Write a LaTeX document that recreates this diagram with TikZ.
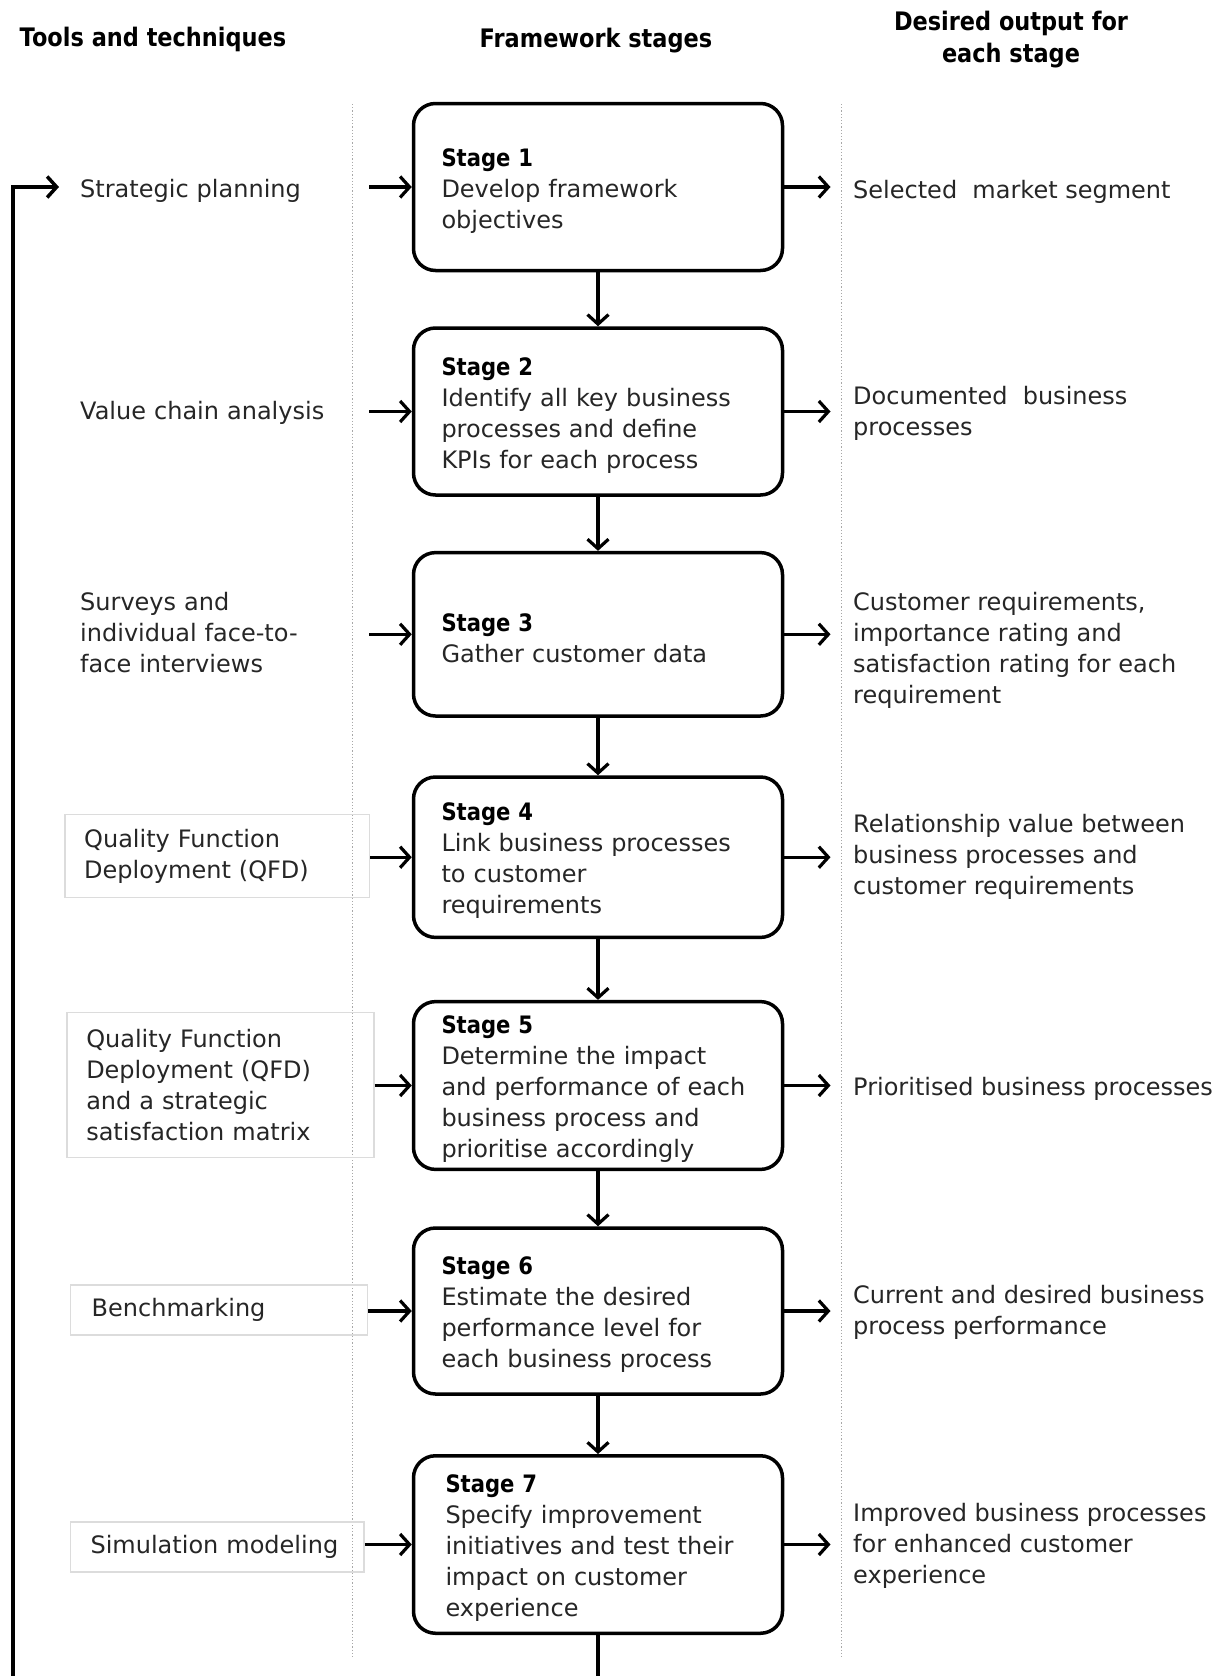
\documentclass[tikz,border=0pt]{standalone}
\usepackage{fontspec}
\setmainfont{DejaVu Sans}
\newfontfamily\condbf{DejaVu Sans}[FakeStretch=0.88]
\usetikzlibrary{arrows.meta}
\definecolor{ink}{HTML}{262626}
\definecolor{framegray}{HTML}{DCDCDC}
\definecolor{dotgray}{HTML}{A8A8A8}
% bold heading line of a stage box, with a strut that sets the top spacing
\newcommand\stagelbl[1]{\rule{0pt}{25pt}{\condbf\bfseries\color{black}Stage #1}}

\begin{document}
\begin{tikzpicture}[x=1pt,y=-1pt,
  every node/.style={font=\fontsize{24}{31}\selectfont, text=ink},
  head/.style={font=\fontsize{25.5}{32}\selectfont\condbf\bfseries, align=center, text=black},
  stagebox/.style={draw=black, line width=3.5pt, rounded corners=22pt,
    text width=313pt, inner xsep=28pt, inner ysep=0pt, align=left},
  toolplain/.style={align=left, anchor=west, inner xsep=21pt, text width=268pt},
  toolbox/.style={draw=framegray, line width=1.5pt, align=left, anchor=west, inner ysep=0pt},
  outtext/.style={align=left, anchor=west, inner xsep=22.5pt},
  flow/.style={draw=black, line width=3.2pt, -{Straight Barb[length=9.5pt,width=21pt]}},
  colsep/.style={draw=dotgray, line width=1.2pt, dotted}
]
\useasboundingbox (0,0) rectangle (1225,1676);
\clip (0,0) rectangle (1225,1676);
\fill[white] (0,0) rectangle (1225,1676);

% column headings
\node[head] (h1) at (153,39.6) {Tools and techniques};
\node[head] (h2) at (596,40.7) {Framework stages};
\node[head] (h3) at (1011,39.6) {Desired output for\\each stage};

% column separators
\draw[colsep] (352.7,104) -- (352.7,1657);
\draw[colsep] (841.2,104) -- (841.2,1657);

% framework stages
\node[stagebox, minimum height=167pt] (s1) at (598,187)
  {\stagelbl{1}\\Develop framework\\objectives};
\node[stagebox, minimum height=167pt] (s2) at (598,411.5)
  {\stagelbl{2}\\Identify all key business\\processes and define\\KPIs for each process};
\node[stagebox, minimum height=163.4pt] (s3) at (598,634.3)
  {\stagelbl{3}\\Gather customer data};
\node[stagebox, minimum height=160.4pt] (s4) at (598,857.2)
  {\stagelbl{4}\\Link business processes\\to customer\\requirements};
\node[stagebox, minimum height=167.8pt] (s5) at (598,1085.5)
  {\stagelbl{5}\\Determine the impact\\and performance of each\\business process and\\prioritise accordingly};
\node[stagebox, minimum height=166pt] (s6) at (598,1311)
  {\stagelbl{6}\\Estimate the desired\\performance level for\\each business process};
\node[stagebox, minimum height=177.5pt, inner xsep=32pt, text width=305pt] (s7) at (598,1544.5)
  {\stagelbl{7}\\Specify improvement\\initiatives and test their\\impact on customer\\experience};

% tools and techniques
\node[toolplain] (t1) at (59,191.3) {Strategic planning};
\node[toolplain] (t2) at (59,412.8) {Value chain analysis};
\node[toolplain] (t3) at (59,633) {Surveys and\\individual face-to-\\face interviews};
\node[toolbox, inner xsep=19.3pt, text width=266pt, minimum height=83pt] (t4) at (64.1,856)
  {Quality Function\\Deployment (QFD)};
\node[toolbox, inner xsep=19.2pt, text width=268.3pt, minimum height=145.3pt] (t5) at (66.3,1085)
  {Quality Function\\Deployment (QFD)\\and a strategic\\satisfaction matrix};
\node[toolbox, inner xsep=21.4pt, text width=254.3pt, minimum height=50pt] (t6) at (69.5,1310)
  {Benchmarking};
\node[toolbox, inner xsep=20.3pt, text width=253.3pt, minimum height=50.4pt] (t7) at (69.5,1547)
  {Simulation modeling};

% desired outputs
\node[outtext] (o1) at (830.5,191.5) {Selected\ \ market segment};
\node[outtext] (o2) at (830.5,413.3) {Documented\ \ business\\processes};
\node[outtext] (o3) at (830.5,650.3) {Customer requirements,\\importance rating and\\satisfaction rating for each\\requirement};
\node[outtext] (o4) at (830.5,857) {Relationship value between\\business processes and\\customer requirements};
\node[outtext] (o5) at (830.5,1088.5) {Prioritised business processes};
\node[outtext] (o6) at (830.5,1312.3) {Current and desired business\\process performance};
\node[outtext] (o7) at (830.5,1546.3) {Improved business processes\\for enhanced customer\\experience};

% stage sequence
\draw[flow] (s1) -- (s2);
\draw[flow] (s2) -- (s3);
\draw[flow] (s3) -- (s4);
\draw[flow] (s4) -- (s5);
\draw[flow] (s5) -- (s6);
\draw[flow] (s6) -- (s7);

% inputs into each stage
\foreach \i in {1,...,7}
  \draw[flow] (t\i.east |- s\i.west) -- (s\i.west);

% outputs of each stage
\foreach \i in {1,...,7}
  \draw[flow] (s\i.east) -- (s\i.east -| o\i.west);

% feedback loop back to strategic planning
\coordinate (loopbot) at (12.8,1720);
\draw[flow, line width=3.5pt] (s7.south) -- (s7.south |- loopbot) -- (loopbot)
  -- (loopbot |- s1.west) -- (t1.west |- s1.west);
\end{tikzpicture}
\end{document}
